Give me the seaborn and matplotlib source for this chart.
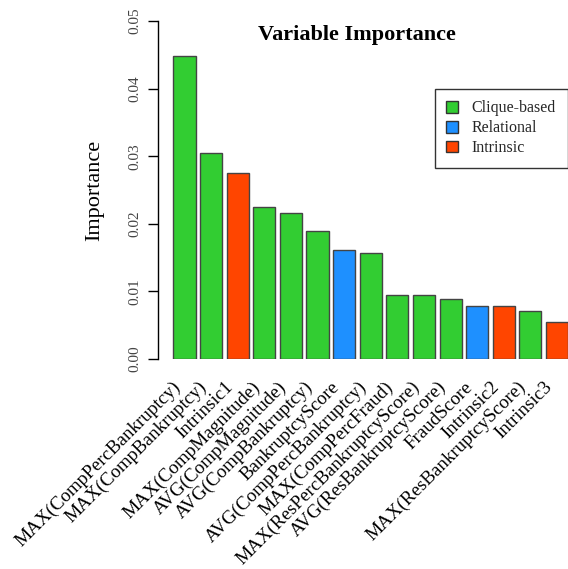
import pandas as pd
import matplotlib
matplotlib.use("Agg")
import matplotlib.pyplot as plt
import matplotlib.transforms as mtransforms
import seaborn as sns

# valores
variables = [
    "MAX(CompPercBankruptcy)", "MAX(CompBankruptcy)", "Intrinsic1",
    "MAX(CompMagnitude)", "AVG(CompMagnitude)", "AVG(CompBankruptcy)",
    "BankruptcyScore", "AVG(CompPercBankruptcy)", "MAX(CompPercFraud)",
    "MAX(ResPercBankruptcyScore)", "AVG(ResBankruptcyScore)", "FraudScore",
    "Intrinsic2", "MAX(ResBankruptcyScore)", "Intrinsic3",
]
importancia = [0.0448, 0.0304, 0.0275, 0.0225, 0.0216, 0.0190, 0.0161, 0.0157,
               0.0095, 0.0095, 0.0089, 0.0079, 0.0078, 0.0071, 0.0055]
grupo = ["Clique-based", "Clique-based", "Intrinsic", "Clique-based", "Clique-based",
         "Clique-based", "Relational", "Clique-based", "Clique-based", "Clique-based",
         "Clique-based", "Relational", "Intrinsic", "Clique-based", "Intrinsic"]
grupos = ["Clique-based", "Relational", "Intrinsic"]
colores = ["#32CD32", "#1E90FF", "#FF4500"]
yticks = [0.00, 0.01, 0.02, 0.03, 0.04, 0.05]

df = pd.DataFrame({"variable": variables, "importancia": importancia, "grupo": grupo})

sns.set_theme(style="white")
plt.rcParams["font.family"] = ["Liberation Serif", "DejaVu Serif"]

W, H = 568, 569
fig = plt.figure(figsize=(W / 100, H / 100), dpi=100)
ax = fig.add_axes([157.7 / W, 210 / H, 428.3 / W, 338 / H])

sns.barplot(data=df, x="variable", y="importancia", hue="grupo", hue_order=grupos,
            palette=colores, order=variables, dodge=False, width=1 / 1.2,
            saturation=1, edgecolor="#444444", linewidth=1.0, ax=ax)

ax.set_xlim(-1.01, 15.09)
ax.set_ylim(0, 0.05)
for s in ["top", "right", "bottom"]:
    ax.spines[s].set_visible(False)
ax.spines["left"].set_color("black")
ax.spines["left"].set_linewidth(1.0)
ax.set_yticks(yticks)
ax.set_yticklabels([f"{v:.2f}" for v in yticks], rotation=90, va="center",
                   fontsize=11, color="#444444")
ax.tick_params(axis="y", left=True, length=7, width=1, color="black", pad=5)
ax.tick_params(axis="x", bottom=False, pad=8)
ax.set_xticks(range(len(variables)))
ax.set_xticklabels(variables, rotation=45, ha="right", va="top",
                   rotation_mode="anchor", fontsize=13.7, color="black")
# desplazar las etiquetas un poco a la izquierda
desplaza = mtransforms.ScaledTranslation(-13 / 100, 0, fig.dpi_scale_trans)
for lab in ax.get_xticklabels():
    lab.set_transform(lab.get_transform() + desplaza)
ax.set_xlabel("")
ax.set_ylabel("")

fig.text(357 / W, 1 - 35 / H, "Variable Importance", ha="center", va="center",
         fontsize=16, fontweight="bold", color="black")
fig.text(95 / W, 1 - 190 / H, "Importance", ha="center", va="center",
         rotation=90, fontsize=16, color="black")

leg = ax.legend(loc="upper right", bbox_to_anchor=(567.5 / W, 1 - 89 / H),
                bbox_transform=fig.transFigure, borderaxespad=0, fontsize=11.5,
                frameon=True, fancybox=False, handlelength=0.75, handleheight=0.75,
                handletextpad=0.85, labelspacing=0.24, borderpad=0.72)
leg.get_frame().set_edgecolor("black")
leg.get_frame().set_linewidth(1.0)
for p in leg.get_patches():
    p.set_edgecolor("#333333")

fig.savefig("out.png", dpi=100)
